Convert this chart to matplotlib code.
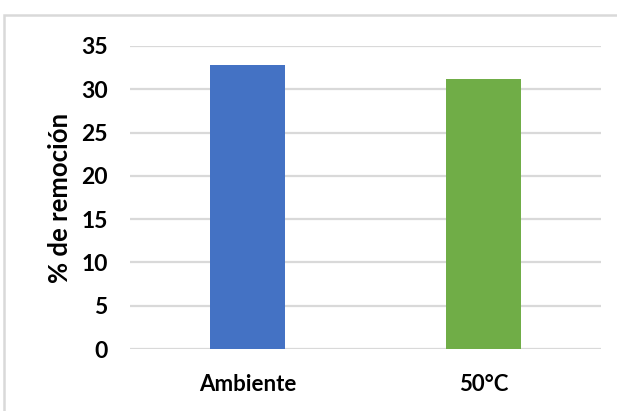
import matplotlib
matplotlib.use("Agg")
import matplotlib.pyplot as plt
from matplotlib.patches import Rectangle

categories = ["Ambiente", "50°C"]
values = [32.8, 31.2]
colors = ["#4472C4", "#70AD47"]
yticks = [0, 5, 10, 15, 20, 25, 30, 35]

plt.rcParams["font.family"] = ["Lato", "DejaVu Sans"]

fig = plt.figure(figsize=(6.17, 4.11), dpi=100)
ax = fig.add_axes([130 / 617, 1 - 349 / 411, 471 / 617, 303 / 411])

x = list(range(len(categories)))
ax.bar(x, values, width=0.32, color=colors, zorder=3)

ax.set_xlim(-0.5, len(categories) - 0.5)
ax.set_ylim(0, 35)
ax.set_yticks(yticks)
ax.set_yticklabels([str(t) for t in yticks], fontsize=16.5, fontweight="bold")
ax.set_xticks(x)
ax.set_xticklabels(categories, fontsize=16, fontweight="bold")
ax.tick_params(axis="y", length=0, pad=16)
ax.tick_params(axis="x", length=0, pad=18)
ax.yaxis.grid(True, color="#D9D9D9", linewidth=1.6, zorder=0)
ax.set_axisbelow(True)
for s in ax.spines.values():
    s.set_visible(False)

ax.set_ylabel("% de remoción", fontsize=18.5, fontweight="bold")
ax.yaxis.label.set_va("center")
ax.yaxis.set_label_coords(-0.1486, 0.5)

# chart-area frame
fig.patches.append(Rectangle((4 / 617, -0.1), 1.2, 1 - 15 / 411 + 0.1,
                             transform=fig.transFigure, fill=False,
                             edgecolor="#D9D9D9", linewidth=1.8))

fig.savefig("out.png", dpi=100, facecolor="white")
